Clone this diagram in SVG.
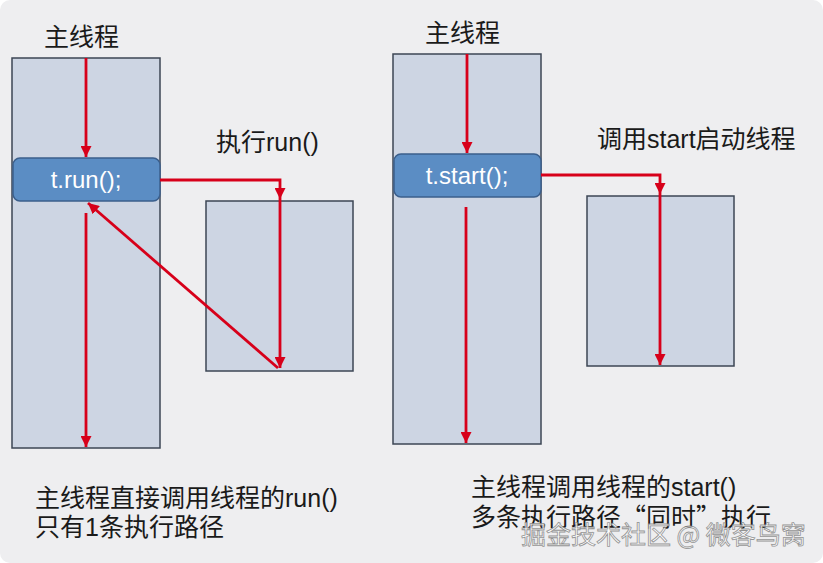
<svg xmlns="http://www.w3.org/2000/svg" width="823" height="563" viewBox="0 0 823 563">
<defs>
<style>
.col{fill:#cdd5e3;stroke:#3c4654;stroke-width:1.5}
.call{fill:#5b8dc4;stroke:#3b5f8c;stroke-width:1.5}
.ct{fill:#ffffff;font-family:"Liberation Sans","Noto Sans CJK SC",sans-serif;font-size:24px;text-anchor:middle}
.lbl{fill:#1a1a1a;font-family:"Liberation Sans","Noto Sans CJK SC",sans-serif;font-size:25px}
.cjk{font-family:"Noto Sans CJK SC",sans-serif}
.ln{fill:none;stroke:#d7001a;stroke-width:2.8}
.wm{fill:#ffffff;stroke:#8a8a8a;stroke-width:0.8;font-family:"Noto Sans CJK SC",sans-serif;font-size:25px;opacity:0.9}
</style>
<marker id="ah" viewBox="0 0 10 10" refX="10" refY="5" markerWidth="11" markerHeight="11" markerUnits="userSpaceOnUse" orient="auto">
<path d="M0,0 L10,5 L0,10 z" fill="#d7001a"/>
</marker>
</defs>
<rect x="0" y="0" width="823" height="563" fill="#ffffff"/>
<rect x="0" y="0" width="823" height="563" rx="10" fill="#eeeef0"/>

<g id="left-main">
<rect class="col" x="12" y="58" width="148" height="390"/>
<text class="lbl" x="44" y="46">主线程</text>
</g>
<g id="left-call">
<rect class="call" x="13" y="158" width="147" height="43" rx="7"/>
<text class="ct" x="86" y="188">t.run();</text>
</g>
<g id="left-thread">
<rect class="col" x="206" y="201" width="147" height="170"/>
<text class="lbl" x="216" y="151">执行run()</text>
</g>

<g id="right-main">
<rect class="col" x="393" y="54" width="148" height="390"/>
<text class="lbl" x="425" y="42">主线程</text>
</g>
<g id="right-call">
<rect class="call" x="394" y="154" width="147" height="43" rx="7"/>
<text class="ct" x="467" y="184">t.start();</text>
</g>
<g id="right-thread">
<rect class="col" x="587" y="196" width="147" height="170"/>
<text class="lbl" x="597" y="148">调用start启动线程</text>
</g>

<g id="connectors">
<path class="ln" d="M86,58 L86,157" marker-end="url(#ah)"/>
<path class="ln" d="M160,180 L280,180 L280,199" marker-end="url(#ah)"/>
<path class="ln" d="M280,199 L280,368" marker-end="url(#ah)"/>
<path class="ln" d="M278,368 L88,203" marker-end="url(#ah)"/>
<path class="ln" d="M86,213 L86,447" marker-end="url(#ah)"/>

<path class="ln" d="M467,54 L467,153" marker-end="url(#ah)"/>
<path class="ln" d="M541,175 L660,175 L660,194" marker-end="url(#ah)"/>
<path class="ln" d="M660,194 L660,365" marker-end="url(#ah)"/>
<path class="ln" d="M466,207 L466,443" marker-end="url(#ah)"/>
</g>

<g id="captions">
<text class="lbl" x="35" y="507">主线程直接调用线程的run()</text>
<text class="lbl" x="35" y="536">只有1条执行路径</text>
<text class="lbl" x="471" y="496">主线程调用线程的start()</text>
<text class="lbl" x="471" y="526">多条执行路径<tspan class="cjk">“同时”</tspan>执行</text>
<text class="wm" x="521" y="544">掘金技术社区 @ 微客鸟窝</text>
</g>
</svg>
